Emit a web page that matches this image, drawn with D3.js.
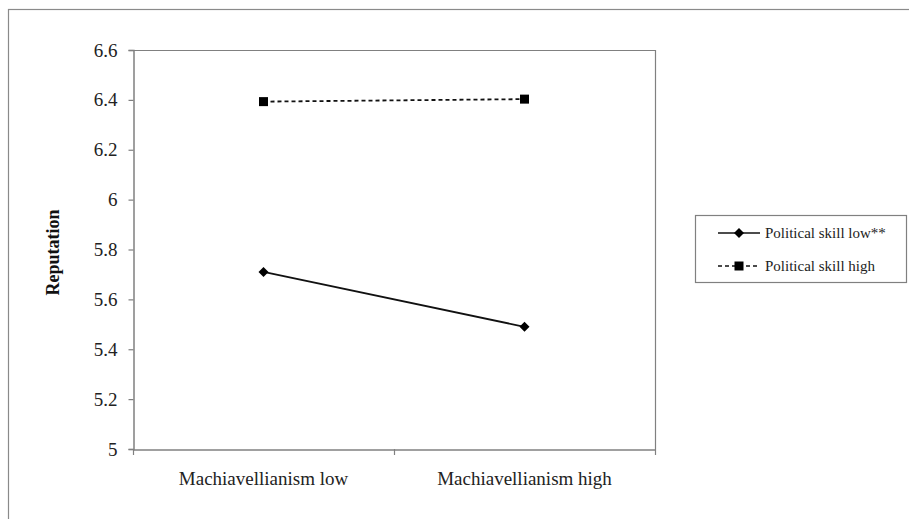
<!DOCTYPE html>
<html>
<head>
<meta charset="utf-8">
<script src="https://cdn.jsdelivr.net/npm/d3@7"></script>
<style>
  body { margin: 0; background: #fff; }
  svg { display: block; font-family: "Liberation Serif", "Times New Roman", serif; }
</style>
</head>
<body>
<svg id="chart" width="909" height="519"></svg>
<script>
// --- Data ---
const categories = ["Machiavellianism low", "Machiavellianism high"];
const seriesNames = ["Political skill low**", "Political skill high"];
const lowValues = [5.71, 5.49];
const highValues = [6.393, 6.403];
const yTicks = [5, 5.2, 5.4, 5.6, 5.8, 6, 6.2, 6.4, 6.6];

const series = [
  { name: seriesNames[0], values: lowValues, dash: null, marker: "diamond" },
  { name: seriesNames[1], values: highValues, dash: "4,3", marker: "square" }
];

const svg = d3.select("#chart");
const axisColor = "#808080";
const serif = "'Liberation Serif', 'Times New Roman', serif";

// --- Outer frame ---
svg.append("rect")
  .attr("x", 8.5).attr("y", 9.5)
  .attr("width", 920).attr("height", 540)
  .attr("fill", "none")
  .attr("stroke", "#8a8a8a")
  .attr("stroke-width", 1.2);

// --- Plot area ---
const plot = { left: 133, right: 655, top: 50, bottom: 449 };

const x = d3.scaleBand()
  .domain(categories)
  .range([plot.left, plot.right]);

const y = d3.scaleLinear()
  .domain([5, 6.6])
  .range([plot.bottom, plot.top]);

// plot border (top + right)
svg.append("path")
  .attr("d", `M${plot.left},${plot.top + 0.5}H${plot.right + 0.5}V${plot.bottom}`)
  .attr("fill", "none")
  .attr("stroke", axisColor)
  .attr("stroke-width", 1.2);

// --- Y axis ---
const yAxis = svg.append("g")
  .attr("transform", `translate(${plot.left + 0.5},0)`)
  .call(d3.axisLeft(y).tickValues(yTicks).tickFormat(d => String(+d.toFixed(1))).tickSize(5).tickPadding(11))
  .attr("font-family", serif)
  .attr("font-size", 19);
yAxis.select(".domain").attr("stroke", axisColor).attr("stroke-width", 1.5);
yAxis.selectAll(".tick line").attr("stroke", axisColor).attr("stroke-width", 1.2);
yAxis.selectAll(".tick text").attr("fill", "#222");

// --- X axis ---
const xAxis = svg.append("g")
  .attr("transform", `translate(0,${plot.bottom + 0.5})`)
  .call(d3.axisBottom(x).tickSize(0).tickPadding(22))
  .attr("font-family", serif)
  .attr("font-size", 19);
xAxis.select(".domain").attr("stroke", axisColor).attr("stroke-width", 1.5);
xAxis.selectAll(".tick text").attr("fill", "#222");

// category boundary ticks
const boundaries = [plot.left, plot.left + x.step(), plot.right];
svg.append("g")
  .selectAll("line")
  .data(boundaries)
  .join("line")
  .attr("x1", d => d + 0.5).attr("x2", d => d + 0.5)
  .attr("y1", plot.bottom).attr("y2", plot.bottom + 6)
  .attr("stroke", axisColor)
  .attr("stroke-width", 1.2);

// --- Y label ---
svg.append("text")
  .attr("transform", `translate(53,${(plot.top + plot.bottom) / 2 + 3}) rotate(-90)`)
  .attr("text-anchor", "middle")
  .attr("dominant-baseline", "central")
  .attr("font-weight", "bold")
  .attr("font-size", 18)
  .attr("fill", "#111")
  .text("Reputation");

// --- Lines & markers ---
const cx = c => x(c) + x.bandwidth() / 2;
const line = d3.line()
  .x((d, i) => cx(categories[i]))
  .y(d => y(d));

function drawMarker(g, type, size) {
  if (type === "diamond") {
    const h = size / 2;
    g.append("path")
      .attr("d", `M0,${-h}L${h},0L0,${h}L${-h},0Z`)
      .attr("fill", "#000");
  } else {
    g.append("rect")
      .attr("x", -size / 2).attr("y", -size / 2)
      .attr("width", size).attr("height", size)
      .attr("fill", "#000");
  }
}

series.forEach(s => {
  svg.append("path")
    .datum(s.values)
    .attr("d", line)
    .attr("fill", "none")
    .attr("stroke", "#111")
    .attr("stroke-width", 1.8)
    .attr("stroke-dasharray", s.dash);

  s.values.forEach((v, i) => {
    const g = svg.append("g")
      .attr("transform", `translate(${cx(categories[i])},${y(v)})`);
    drawMarker(g, s.marker, s.marker === "diamond" ? 10 : 9);
  });
});

// --- Legend ---
const legend = svg.append("g");
legend.append("rect")
  .attr("x", 695.5).attr("y", 215.5)
  .attr("width", 211).attr("height", 67)
  .attr("fill", "#fff")
  .attr("stroke", axisColor)
  .attr("stroke-width", 1.2);

const legendRows = [233, 266];
series.forEach((s, i) => {
  const ly = legendRows[i];
  legend.append("line")
    .attr("x1", 718).attr("x2", 760)
    .attr("y1", ly).attr("y2", ly)
    .attr("stroke", "#111")
    .attr("stroke-width", 1.6)
    .attr("stroke-dasharray", s.dash);
  const g = legend.append("g").attr("transform", `translate(739,${ly})`);
  drawMarker(g, s.marker, s.marker === "diamond" ? 10 : 9);
  legend.append("text")
    .attr("x", 765).attr("y", ly)
    .attr("dominant-baseline", "central")
    .attr("font-size", 15)
    .attr("fill", "#222")
    .text(s.name);
});
</script>
</body>
</html>
